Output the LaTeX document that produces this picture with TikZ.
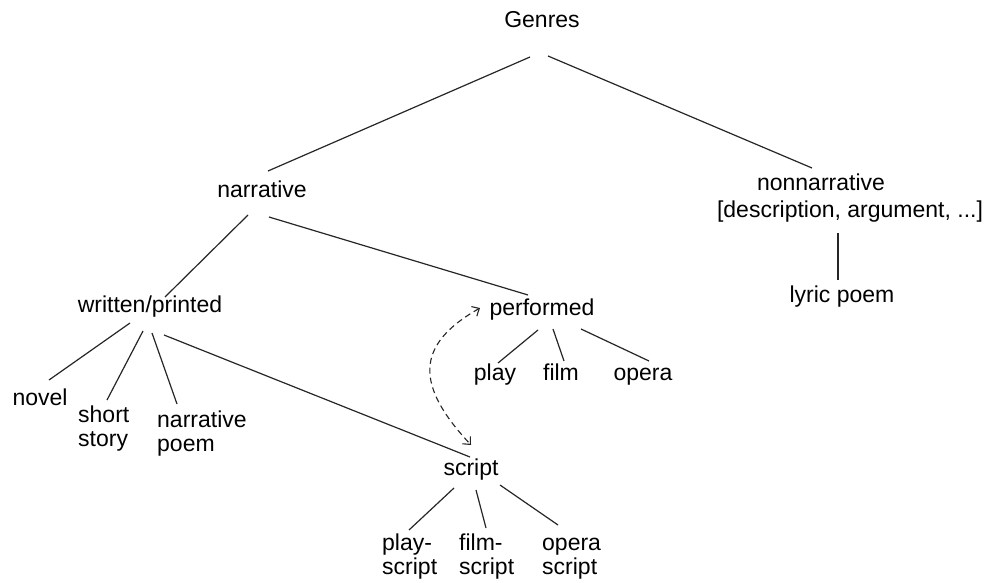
\documentclass[tikz,border=0pt]{standalone}
\usepackage{fontspec}
\setmainfont{Liberation Sans}
\usetikzlibrary{calc,arrows.meta}
\tikzset{
  lbl/.style={font=\fontsize{23}{24}\selectfont, inner sep=0pt, anchor=base, text=black},
  mlbl/.style={lbl, align=left, anchor=base west},
  edge/.style={draw=black!85, line width=1.2pt},
  link/.style={draw=black!85, line width=1.1pt, dash pattern=on 6pt off 4pt,
    {Straight Barb[length=6pt,width=11pt]}-{Straight Barb[length=6pt,width=11pt]}}
}
\begin{document}
\begin{tikzpicture}[x=1pt,y=-1pt]
\fill[white] (0,0) rectangle (987,583);
\useasboundingbox (0,0) rectangle (987,583);

\node[lbl] (G) at (542,28) {Genres};
\node[lbl] (narr) at (262,197) {narrative};
\node[lbl] (nonn) at (821,190) {nonnarrative};
\node[lbl] (desc) at (850,217) {[description, argument, ...]};
\node[lbl] (lyric) at (842,302) {lyric poem};
\node[lbl] (wp) at (150,312) {written/printed};
\node[lbl] (perf) at (542,315) {performed};
\node[lbl] (play) at (495,380) {play};
\node[lbl] (film) at (561,380) {film};
\node[lbl] (opera) at (643,380) {opera};
\node[lbl] (script) at (471,475) {script};
\node[lbl] (novel) at (40,405) {novel};
\node[mlbl] (short) at (78,446) {short\\story};
\node[mlbl] (npoem) at (157,451) {narrative\\poem};
\node[mlbl] (pscript) at (382,574) {play-\\script};
\node[mlbl] (fscript) at (459,574) {film-\\script};
\node[mlbl] (oscript) at (542,574) {opera\\script};

\draw[edge] ($(G.base)+(-12,29)$) -- ($(narr.base)+(6,-26)$);
\draw[edge] ($(G.base)+(6,28)$) -- ($(nonn.base)+(-9,-22)$);
\draw[edge] ($(desc.base)+(-12,16)$) -- ($(lyric.base)+(-4,-22)$);
\draw[edge] ($(narr.base)+(-14,18)$) -- ($(wp.base)+(15,-15)$);
\draw[edge] ($(narr.base)+(7,20)$) -- ($(perf.base)+(-14,-20)$);
\draw[edge] ($(wp.base)+(-20,11)$) -- ($(novel.base)+(9,-25)$);
\draw[edge] ($(wp.base)+(-7,19)$) -- ($(short.base west)+(29,-46)$);
\draw[edge] ($(wp.base)+(2,21)$) -- ($(npoem.base west)+(20,-47)$);
\draw[edge] ($(wp.base)+(14,23)$) -- ($(script.base)+(-1,-18)$);
\draw[edge] ($(perf.base)+(-4,15)$) -- ($(play.base)+(3,-17)$);
\draw[edge] ($(perf.base)+(11,14)$) -- ($(film.base)+(3,-19)$);
\draw[edge] ($(perf.base)+(39,14)$) -- ($(opera.base)+(6,-19)$);
\draw[edge] ($(script.base)+(-17,13)$) -- ($(pscript.base west)+(27,-44)$);
\draw[edge] ($(script.base)+(5,15)$) -- ($(fscript.base west)+(27,-46)$);
\draw[edge] ($(script.base)+(29,10)$) -- ($(oscript.base west)+(16,-49)$);

\draw[link] ($(perf.base)+(-62,-7)$) .. controls ($(perf.base)+(-127,30)$) and ($(script.base)+(-56,-90)$) .. ($(script.base)+(0,-30)$);
\end{tikzpicture}
\end{document}
